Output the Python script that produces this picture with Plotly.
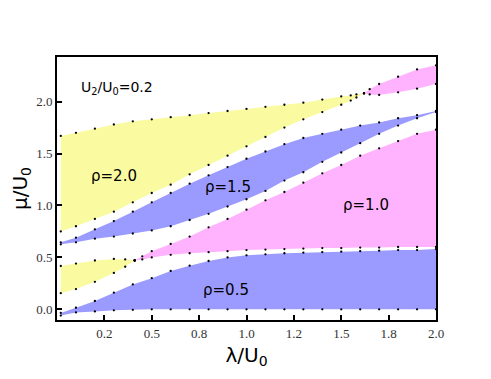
import plotly.graph_objects as go

# rho = 2.0, upper (big) lobe
x_r20a = [0.02, 0.1, 0.2, 0.3, 0.4, 0.5, 0.6, 0.7, 0.8, 0.9, 1.0, 1.1, 1.2, 1.3, 1.4, 1.5, 1.55, 1.58, 1.62]
up_r20a = [1.67, 1.70, 1.74, 1.78, 1.81, 1.83, 1.85, 1.87, 1.89, 1.91, 1.93, 1.95, 1.97, 1.99, 2.02, 2.05, 2.06, 2.07, 2.08]
lo_r20a = [0.75, 0.80, 0.87, 0.94, 1.03, 1.12, 1.20, 1.30, 1.39, 1.48, 1.57, 1.66, 1.75, 1.83, 1.90, 1.97, 2.01, 2.04, 2.08]

# rho = 2.0, lower (small) lobe
x_r20b = [0.02, 0.1, 0.2, 0.3, 0.36, 0.41]
up_r20b = [0.417, 0.44, 0.47, 0.485, 0.48, 0.47]
lo_r20b = [0.155, 0.195, 0.265, 0.35, 0.41, 0.47]

# top-right lobe (above rho=2.0)
x_r25 = [1.62, 1.65, 1.7, 1.8, 1.9, 2.0]
up_r25 = [2.08, 2.12, 2.17, 2.24, 2.31, 2.35]
lo_r25 = [2.08, 2.07, 2.065, 2.09, 2.125, 2.17]

# rho = 1.5
x_r15 = [0.02, 0.1, 0.2, 0.3, 0.4, 0.5, 0.6, 0.7, 0.8, 0.9, 1.0, 1.1, 1.2, 1.3, 1.4, 1.5, 1.6, 1.7, 1.8, 1.9, 2.0]
up_r15 = [0.645, 0.69, 0.77, 0.85, 0.94, 1.03, 1.12, 1.21, 1.29, 1.37, 1.45, 1.52, 1.59, 1.65, 1.69, 1.73, 1.77, 1.80, 1.84, 1.87, 1.91]
lo_r15 = [0.626, 0.645, 0.68, 0.70, 0.73, 0.76, 0.80, 0.86, 0.92, 0.99, 1.06, 1.14, 1.24, 1.32, 1.42, 1.51, 1.60, 1.69, 1.77, 1.84, 1.90]

# rho = 1.0
x_r10 = [0.41, 0.45, 0.5, 0.6, 0.7, 0.8, 0.9, 1.0, 1.1, 1.2, 1.3, 1.4, 1.5, 1.6, 1.7, 1.8, 1.9, 2.0]
up_r10 = [0.47, 0.51, 0.56, 0.63, 0.70, 0.79, 0.87, 0.96, 1.05, 1.13, 1.22, 1.31, 1.39, 1.48, 1.55, 1.62, 1.69, 1.73]
lo_r10 = [0.47, 0.48, 0.50, 0.525, 0.54, 0.55, 0.56, 0.57, 0.575, 0.58, 0.585, 0.59, 0.59, 0.595, 0.595, 0.60, 0.60, 0.60]

# rho = 0.5
x_r05 = [0.02, 0.1, 0.2, 0.3, 0.4, 0.5, 0.6, 0.7, 0.8, 0.9, 1.0, 1.1, 1.2, 1.3, 1.4, 1.5, 1.6, 1.7, 1.8, 1.9, 2.0]
up_r05 = [-0.035, 0.015, 0.08, 0.16, 0.24, 0.30, 0.37, 0.42, 0.465, 0.50, 0.52, 0.53, 0.54, 0.545, 0.55, 0.555, 0.56, 0.565, 0.57, 0.57, 0.58]
lo_r05 = [-0.06, -0.03, -0.02, -0.01, -0.005, 0, 0, 0, 0, 0, 0, 0, 0, 0, 0, 0, 0, 0, 0, 0, 0]

YELLOW = "#FAFAA0"
BLUE = "#9B9BFF"
PINK = "#FFB3FF"

regions = [
    (x_r20a, up_r20a, lo_r20a, YELLOW),
    (x_r20b, up_r20b, lo_r20b, YELLOW),
    (x_r25, up_r25, lo_r25, PINK),
    (x_r15, up_r15, lo_r15, BLUE),
    (x_r10, up_r10, lo_r10, PINK),
    (x_r05, up_r05, lo_r05, BLUE),
]

fig = go.Figure()
for xs, up, lo, col in regions:
    fig.add_trace(go.Scatter(
        x=xs + xs[::-1], y=up + lo[::-1],
        fill="toself", fillcolor=col, mode="none",
        hoverinfo="skip", showlegend=False,
    ))
for xs, up, lo, col in regions:
    fig.add_trace(go.Scatter(
        x=xs + xs, y=up + lo, mode="markers",
        marker=dict(color="black", size=2.3),
        showlegend=False,
    ))

labels = [
    (0.115, 2.13, "U<sub>2</sub>/U<sub>0</sub>=0.2", 14),
    (0.30, 1.28, "ρ=2.0", 15),
    (0.90, 1.18, "ρ=1.5", 15),
    (1.63, 1.0, "ρ=1.0", 15),
    (0.89, 0.186, "ρ=0.5", 15),
]
for x, y, s, sz in labels:
    fig.add_annotation(x=x, y=y, text=s, showarrow=False, xanchor="left" if x < 0.2 else "center",
                       font=dict(family="DejaVu Sans", size=sz, color="black"))

serif = "Liberation Serif"
axis = dict(showline=True, linewidth=2, linecolor="black", mirror=True,
            ticks="inside", ticklen=5, tickwidth=1.5, tickcolor="black",
            showgrid=False, zeroline=False, automargin=False,
            tickfont=dict(family=serif, size=13, color="#333333"))

fig.update_xaxes(**axis)
fig.update_yaxes(**axis)
fig.update_xaxes(range=[0, 2.0],
                 tickvals=[0.25, 0.5, 0.75, 1.0, 1.25, 1.5, 1.75, 2.0],
                 ticktext=["0.2", "0.5", "0.8", "1.0", "1.2", "1.5", "1.8", "2.0"],
                 title=dict(text="λ/U<sub>0</sub>", font=dict(family="DejaVu Sans", size=20, color="black"), standoff=8))
fig.update_yaxes(range=[-0.103, 2.43],
                 tickvals=[0, 0.5, 1.0, 1.5, 2.0],
                 ticktext=["0.0", "0.5", "1.0", "1.5", "2.0"],
                 title=dict(text="μ/U<sub>0</sub>", font=dict(family="DejaVu Sans", size=20, color="black"), standoff=8))

# page body adds an ~8px offset, so margins are shifted to compensate
fig.update_layout(
    width=491, height=379,
    margin=dict(l=49, r=63, t=49, b=67),
    plot_bgcolor="white", paper_bgcolor="white",
)

fig.write_html("out.html")
